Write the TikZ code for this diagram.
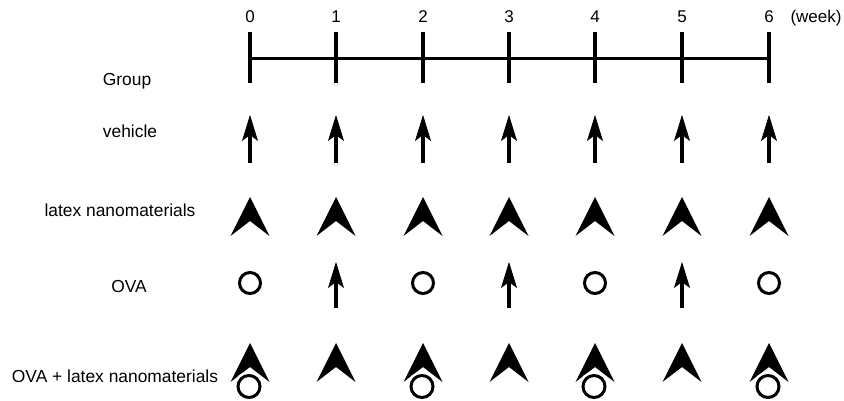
\documentclass[tikz,border=0pt]{standalone}
\usepackage{fontspec}
\setmainfont{Liberation Sans}
\usetikzlibrary{arrows.meta}
\begin{document}
\begin{tikzpicture}[x=1pt,y=-1pt,
  lbl/.style={anchor=base,inner sep=0pt,font=\fontsize{17.4}{19}\selectfont},
  num/.style={anchor=base,inner sep=0pt,font=\fontsize{17}{19}\selectfont},
  tickline/.style={line width=4pt},
  axisline/.style={line width=3.5pt},
  doseArrow/.style={line width=4.5pt,-{Stealth[length=26pt,width=16pt,inset=6pt,line width=0.6pt]}},
  ovacirc/.style={circle,draw,line width=3pt,minimum size=21pt,inner sep=0pt},
  combcirc/.style={circle,draw,line width=3pt,minimum size=22pt,inner sep=0pt,
    preaction={draw=white,line width=8pt}},
  lxhead/.pic={\fill (0,0) -- (19.5,39) -- (0,24) -- (-19.5,39) -- cycle;}
]
\useasboundingbox (0,0) rectangle (844,401);

% week axis
\foreach \i/\x in {0/250,1/336,2/423,3/509,4/595,5/682,6/769}{
  \coordinate (t\i top) at (\x,32);
  \coordinate (t\i bot) at (\x,83);
  \node[num] (w\i) at (\x,23) {\i};
  \draw[tickline] (t\i top) -- (t\i bot);
}
\coordinate (axL) at (250,58.5);
\coordinate (axR) at (769,58.5);
\draw[axisline] (axL) -- (axR);
\node[num] (weeklbl) at (816,23) {(week)};

% row labels
\node[lbl] (group) at (127,86) {Group};
\node[lbl] (veh) at (130,138) {vehicle};
\node[lbl] (lat) at (120,217) {latex nanomaterials};
\node[lbl] (ova) at (129,292) {OVA};
\node[lbl] (ovalat) at (115,382) {OVA + latex nanomaterials};

% vehicle row
\foreach \i/\x in {0/250,1/336,2/423,3/509,4/595,5/682,6/769}{
  \coordinate (vb\i) at (\x,163);
  \coordinate (vt\i) at (\x,115);
  \draw[doseArrow] (vb\i) -- (vt\i);
}

% latex nanomaterials row
\foreach \x in {250,336,423,509,595,682,769}{
  \pic at (\x,197) {lxhead};
}

% OVA row
\foreach \i/\x in {0/250,2/423,4/595,6/769}{
  \node[ovacirc] (oc\i) at (\x,283) {};
}
\foreach \i/\x in {1/336,3/509,5/682}{
  \coordinate (ob\i) at (\x,308);
  \coordinate (ot\i) at (\x,262);
  \draw[doseArrow] (ob\i) -- (ot\i);
}

% OVA + latex row
\foreach \x in {250,336,423,509,595,682,769}{
  \pic at (\x,343) {lxhead};
}
\foreach \i/\x in {0/249,2/422,4/594,6/768}{
  \node[combcirc] (cc\i) at (\x,386.5) {};
}
\end{tikzpicture}
\end{document}
